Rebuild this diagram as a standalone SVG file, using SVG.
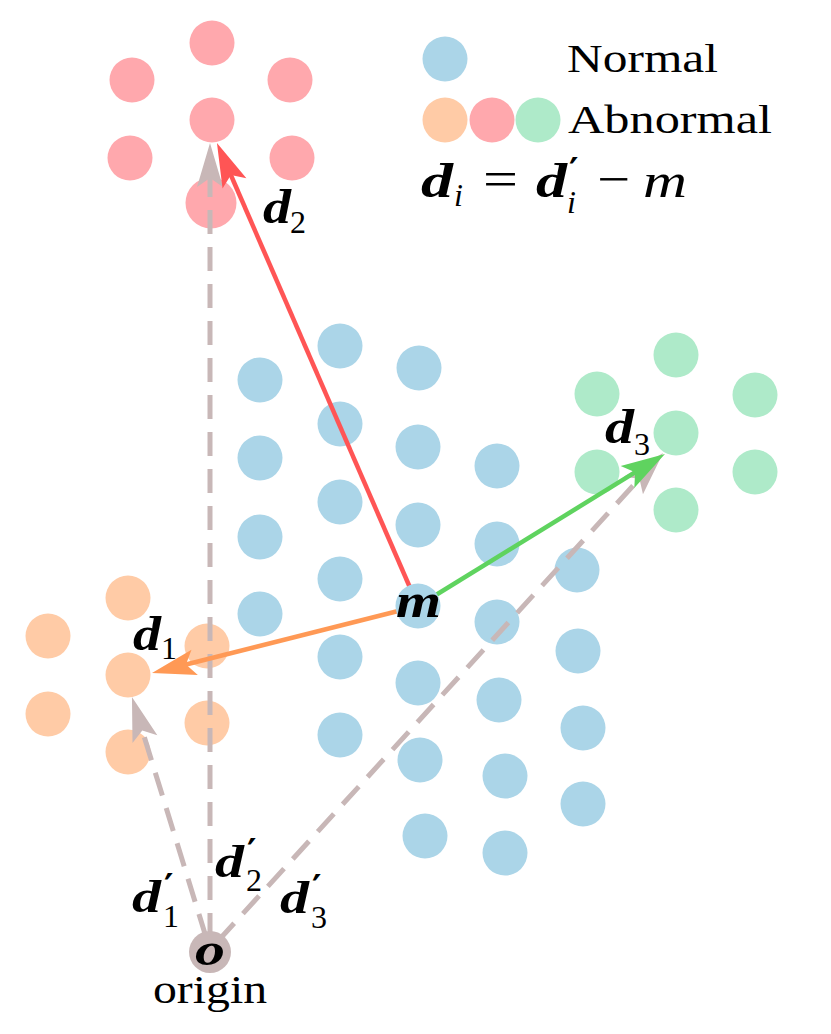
<svg xmlns="http://www.w3.org/2000/svg" width="831" height="1034" viewBox="0 0 831 1034">
<style>
.n{fill:#abd5e8}
.r{fill:#ffa8ad}
.o{fill:#ffcba6}
.g{fill:#aeeac9}
.lbl{font-family:"Liberation Serif","DejaVu Serif",serif;fill:#000}
.it{font-family:"Liberation Serif","DejaVu Serif",serif;font-style:italic;fill:#000}
.mi{font-family:"Liberation Serif","DejaVu Serif",serif;font-style:italic;font-weight:bold;fill:#000}
.pr{font-family:"DejaVu Sans",sans-serif;font-weight:bold;fill:#000}
.dash{stroke:#c8b7b7;stroke-width:5;stroke-dasharray:24 13;fill:none}
</style>
<defs>
<marker id="ar" viewBox="-16 -15 48 30" markerWidth="48" markerHeight="30" refX="0" refY="0" orient="auto" markerUnits="userSpaceOnUse"><path d="M30,0 L-14,-13 L-5,0 L-14,13 Z" fill="#ff5555"/></marker>
<marker id="ao" viewBox="-16 -15 48 30" markerWidth="48" markerHeight="30" refX="0" refY="0" orient="auto" markerUnits="userSpaceOnUse"><path d="M30,0 L-14,-13 L-5,0 L-14,13 Z" fill="#ff9955"/></marker>
<marker id="ag" viewBox="-16 -15 48 30" markerWidth="48" markerHeight="30" refX="0" refY="0" orient="auto" markerUnits="userSpaceOnUse"><path d="M30,0 L-14,-13 L-5,0 L-14,13 Z" fill="#5fd35f"/></marker>
<marker id="ay" viewBox="-16 -15 48 30" markerWidth="48" markerHeight="30" refX="0" refY="0" orient="auto" markerUnits="userSpaceOnUse"><path d="M30,0 L-14,-13 L-5,0 L-14,13 Z" fill="#c8b7b7"/></marker>
</defs>

<g id="normal-points">
<circle class="n" cx="260" cy="380" r="22.5"/><circle class="n" cx="260" cy="458" r="22.5"/><circle class="n" cx="260" cy="537" r="22.5"/><circle class="n" cx="260" cy="614" r="22.5"/>
<circle class="n" cx="340" cy="346" r="22.5"/><circle class="n" cx="340" cy="424" r="22.5"/><circle class="n" cx="340" cy="502" r="22.5"/><circle class="n" cx="340" cy="579" r="22.5"/><circle class="n" cx="340" cy="657" r="22.5"/><circle class="n" cx="340" cy="735" r="22.5"/>
<circle class="n" cx="419" cy="368" r="22.5"/><circle class="n" cx="418" cy="447" r="22.5"/><circle class="n" cx="418" cy="525" r="22.5"/><circle class="n" cx="418" cy="683" r="22.5"/><circle class="n" cx="420" cy="760" r="22.5"/><circle class="n" cx="425" cy="836" r="22.5"/>
<circle class="n" cx="497" cy="466" r="22.5"/><circle class="n" cx="497" cy="544" r="22.5"/><circle class="n" cx="497" cy="622" r="22.5"/><circle class="n" cx="499" cy="700" r="22.5"/><circle class="n" cx="505" cy="776" r="22.5"/><circle class="n" cx="505" cy="853" r="22.5"/>
<circle class="n" cx="577" cy="570" r="22.5"/><circle class="n" cx="578" cy="651" r="22.5"/><circle class="n" cx="583" cy="728" r="22.5"/><circle class="n" cx="583" cy="804" r="22.5"/>
</g>
<g id="abnormal-red">
<circle class="r" cx="212" cy="43" r="22.5"/><circle class="r" cx="132" cy="80" r="22.5"/><circle class="r" cx="290" cy="80" r="22.5"/><circle class="r" cx="212" cy="120" r="22.5"/><circle class="r" cx="130" cy="158" r="22.5"/><circle class="r" cx="292" cy="158" r="22.5"/><circle class="r" cx="211" cy="203" r="25.5"/>
</g>
<g id="abnormal-orange">
<circle class="o" cx="128" cy="598" r="22.5"/><circle class="o" cx="48" cy="636" r="22.5"/><circle class="o" cx="207" cy="646" r="22.5"/><circle class="o" cx="128" cy="675" r="22.5"/><circle class="o" cx="48" cy="714" r="22.5"/><circle class="o" cx="207" cy="723" r="22.5"/><circle class="o" cx="128" cy="752" r="22.5"/>
</g>
<g id="abnormal-green">
<circle class="g" cx="676" cy="355" r="22.5"/><circle class="g" cx="597" cy="394" r="22.5"/><circle class="g" cx="755" cy="395" r="22.5"/><circle class="g" cx="676" cy="433" r="22.5"/><circle class="g" cx="597" cy="472" r="22.5"/><circle class="g" cx="755" cy="472" r="22.5"/><circle class="g" cx="676" cy="510" r="22.5"/>
</g>

<g id="connectors">
<line class="dash" x1="206" y1="937" x2="140.8" y2="725.7" marker-end="url(#ay)"/>
<line class="dash" x1="210" y1="937" x2="210" y2="173" marker-end="url(#ay)"/>
<line class="dash" x1="218" y1="941" x2="642.8" y2="475.1" marker-end="url(#ay)"/>
<line x1="418" y1="606" x2="228.9" y2="170.5" stroke="#ff5555" stroke-width="4.5" marker-end="url(#ar)"/>
<line x1="418" y1="606" x2="181.1" y2="665.7" stroke="#ff9955" stroke-width="4.5" marker-end="url(#ao)"/>
<line x1="418" y1="606" x2="639.4" y2="469.7" stroke="#5fd35f" stroke-width="4.5" marker-end="url(#ag)"/>
</g>

<g id="m-node">
<circle class="n" cx="418" cy="606" r="22.5"/>
<text class="mi" x="396" y="617" font-size="48" textLength="45" lengthAdjust="spacingAndGlyphs">m</text>
</g>
<g id="origin">
<circle cx="210" cy="952" r="21" fill="#c8b7b7"/>
<text class="mi" x="195" y="965" font-size="46" textLength="30" lengthAdjust="spacingAndGlyphs">o</text>
<text class="lbl" x="153" y="1003" font-size="40" textLength="114" lengthAdjust="spacingAndGlyphs">origin</text>
</g>

<g id="labels">
<text class="mi" x="263" y="223" font-size="48" textLength="28" lengthAdjust="spacingAndGlyphs">d</text><text class="lbl" x="290" y="233" font-size="32">2</text>
<text class="mi" x="133" y="650" font-size="48" textLength="28" lengthAdjust="spacingAndGlyphs">d</text><text class="lbl" x="161" y="659" font-size="32">1</text>
<text class="mi" x="605" y="443" font-size="48" textLength="29" lengthAdjust="spacingAndGlyphs">d</text><text class="lbl" x="634" y="455" font-size="32">3</text>
<text class="mi" x="215" y="877" font-size="46" textLength="29" lengthAdjust="spacingAndGlyphs">d</text><text class="pr" x="247" y="864" font-size="36">′</text><text class="lbl" x="246" y="891" font-size="32">2</text>
<text class="mi" x="132" y="912" font-size="46" textLength="29" lengthAdjust="spacingAndGlyphs">d</text><text class="pr" x="164" y="899" font-size="36">′</text><text class="lbl" x="163" y="927" font-size="32">1</text>
<text class="mi" x="280" y="913" font-size="46" textLength="29" lengthAdjust="spacingAndGlyphs">d</text><text class="pr" x="312" y="900" font-size="36">′</text><text class="lbl" x="311" y="928" font-size="32">3</text>
</g>

<g id="legend">
<circle class="n" cx="445" cy="59" r="22.5"/>
<circle class="o" cx="445" cy="120" r="22.5"/>
<circle class="r" cx="492" cy="120" r="22.5"/>
<circle class="g" cx="538" cy="120" r="22.5"/>
<text class="lbl" x="567" y="72" font-size="40" textLength="151" lengthAdjust="spacingAndGlyphs">Normal</text>
<text class="lbl" x="568" y="133" font-size="40" textLength="204" lengthAdjust="spacingAndGlyphs">Abnormal</text>
<text class="mi" x="421" y="197" font-size="48" textLength="32" lengthAdjust="spacingAndGlyphs">d</text>
<text class="it" x="454" y="206" font-size="32">i</text>
<text class="lbl" x="483" y="196" font-size="50" textLength="35" lengthAdjust="spacingAndGlyphs">=</text>
<text class="mi" x="536" y="197" font-size="48" textLength="31" lengthAdjust="spacingAndGlyphs">d</text>
<text class="pr" x="569" y="183" font-size="36">′</text>
<text class="it" x="567" y="213" font-size="32">i</text>
<text class="lbl" x="597" y="196" font-size="50" textLength="33" lengthAdjust="spacingAndGlyphs">−</text>
<text class="it" x="643" y="197" font-size="48" textLength="44" lengthAdjust="spacingAndGlyphs">m</text>
</g>
</svg>
